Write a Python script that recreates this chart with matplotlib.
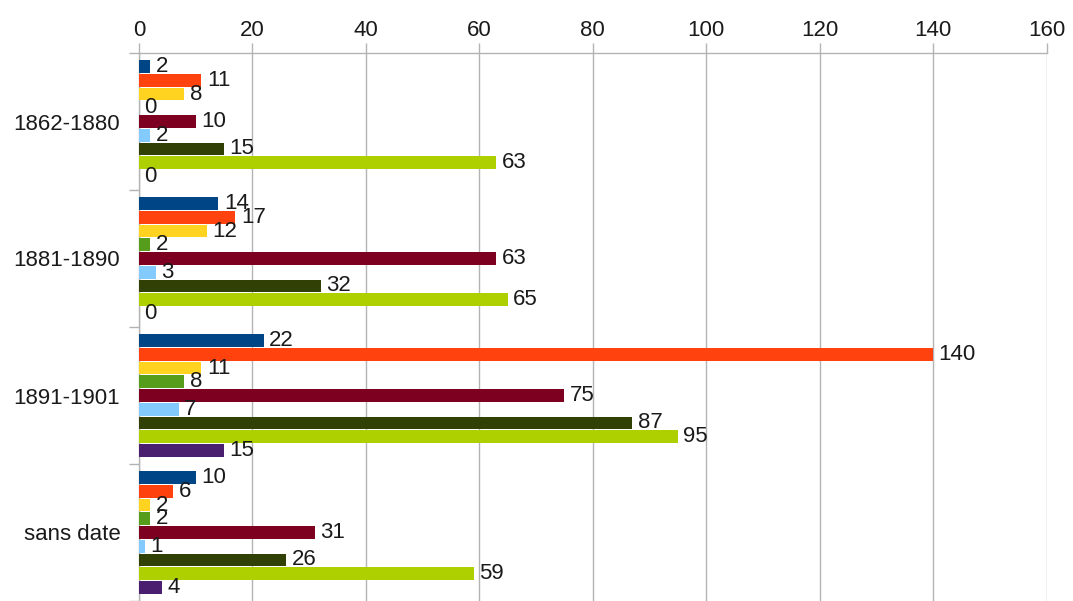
import numpy as np
import matplotlib.pyplot as plt
from matplotlib.ticker import FixedLocator

plt.rcParams['font.family'] = ['Liberation Sans', 'DejaVu Sans']

categories = ["1862-1880", "1881-1890", "1891-1901", "sans date"]

# one list per series, values in the order of the categories
serie_1 = [2, 14, 22, 10]
serie_2 = [11, 17, 140, 6]
serie_3 = [8, 12, 11, 2]
serie_4 = [0, 2, 8, 2]
serie_5 = [10, 63, 75, 31]
serie_6 = [2, 3, 7, 1]
serie_7 = [15, 32, 87, 26]
serie_8 = [63, 65, 95, 59]
serie_9 = [0, 0, 15, 4]

series = [serie_1, serie_2, serie_3, serie_4, serie_5,
          serie_6, serie_7, serie_8, serie_9]

# LibreOffice default palette
colors = ["#004586", "#ff420e", "#ffd320", "#579d1c", "#7e0021",
          "#83caff", "#314004", "#aecf00", "#4b1f6f"]

fig = plt.figure(figsize=(10.73, 6.01), dpi=100)
ax = fig.add_axes([139 / 1073, 0.0, (1046.5 - 139) / 1073, 1 - 53 / 601])

n = len(series)
step = 0.9 / n
y = np.arange(len(categories))
for i, vals in enumerate(series):
    pos = y - 0.45 + step * (i + 0.5)
    bars = ax.barh(pos, vals, height=step * 0.92, color=colors[i], zorder=3)
    ax.bar_label(bars, labels=[str(v) for v in vals], padding=4,
                 fontsize=16, color="#1a1a1a", zorder=4)

ax.set_xlim(0, 160)
ax.set_ylim(len(categories) - 0.5, -0.5)

ax.xaxis.tick_top()
ax.set_xticks(np.arange(0, 161, 20))
ax.tick_params(axis="x", which="major", length=7, width=1, color="#b3b3b3",
               labelsize=16, labelcolor="#1a1a1a", pad=2)
ax.grid(axis="x", color="#b3b3b3", linewidth=1, zorder=0)

ax.set_yticks(y)
ax.set_yticklabels(categories)
ax.yaxis.set_minor_locator(FixedLocator(np.arange(len(categories) + 1) - 0.5))
ax.tick_params(axis="y", which="major", length=0, labelsize=16,
               labelcolor="#1a1a1a", pad=13.5)
ax.tick_params(axis="y", which="minor", length=7, width=1, color="#b3b3b3")

for side in ["right", "bottom"]:
    ax.spines[side].set_visible(False)
for side in ["top", "left"]:
    ax.spines[side].set_color("#b3b3b3")
    ax.spines[side].set_linewidth(1)

fig.savefig("out.png", dpi=100)
